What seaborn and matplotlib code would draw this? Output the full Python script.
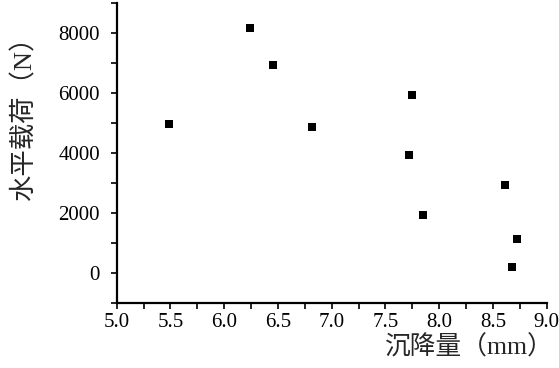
import matplotlib
matplotlib.use("Agg")
import matplotlib.pyplot as plt
import seaborn as sns
import pandas as pd
from matplotlib.ticker import MultipleLocator

settlement = [5.49, 6.24, 6.45, 6.82, 7.75, 7.72, 8.61, 7.85, 8.72, 8.68]
load = [4980, 8170, 6940, 4880, 5940, 3930, 2920, 1940, 1140, 190]
x_ticks = [5.0, 5.5, 6.0, 6.5, 7.0, 7.5, 8.0, 8.5, 9.0]
y_ticks = [0, 2000, 4000, 6000, 8000]
x_label = "沉降量（mm）"
y_label = "水平载荷（N）"

sns.set_theme(style="ticks")
plt.rcParams['font.family'] = ['Liberation Serif', 'Noto Sans CJK SC']

df = pd.DataFrame({"x": settlement, "y": load})

fig = plt.figure(figsize=(5.59, 3.68), dpi=100)
ax = fig.add_axes([0.2088, 0.1766, 0.978 - 0.2088, 0.992 - 0.1766])
sns.scatterplot(data=df, x="x", y="y", ax=ax, marker="s", s=27,
                color="black", edgecolor="black", linewidth=0)

ax.set_xlim(5.0, 9.0)
ax.set_ylim(-1000, 9000)
ax.set_xticks(x_ticks)
ax.set_xticklabels([f"{v:.1f}" for v in x_ticks])
ax.set_yticks(y_ticks)
ax.set_yticklabels([str(v) for v in y_ticks])
ax.xaxis.set_minor_locator(MultipleLocator(0.25))
ax.yaxis.set_minor_locator(MultipleLocator(1000))

for s in ["top", "right"]:
    ax.spines[s].set_visible(False)
for s in ["left", "bottom"]:
    ax.spines[s].set_linewidth(1.6)
    ax.spines[s].set_color("black")

ax.tick_params(which="both", direction="out", length=4, width=1.2, colors="black")
ax.tick_params(axis="x", which="major", labelsize=15, pad=3)
ax.tick_params(axis="y", which="major", labelsize=15, pad=8)

ax.set_xlabel("")
ax.set_ylabel("")
fig.text(0.988, 0.057, x_label, ha="right", va="center", fontsize=18.5,
         family=['Liberation Serif', 'Noto Sans CJK SC'])
fig.text(0.042, 0.695, y_label, ha="center", va="center", rotation=90, fontsize=19,
         family=['Liberation Serif', 'Noto Sans CJK SC'])

fig.savefig("out.png", dpi=100)
